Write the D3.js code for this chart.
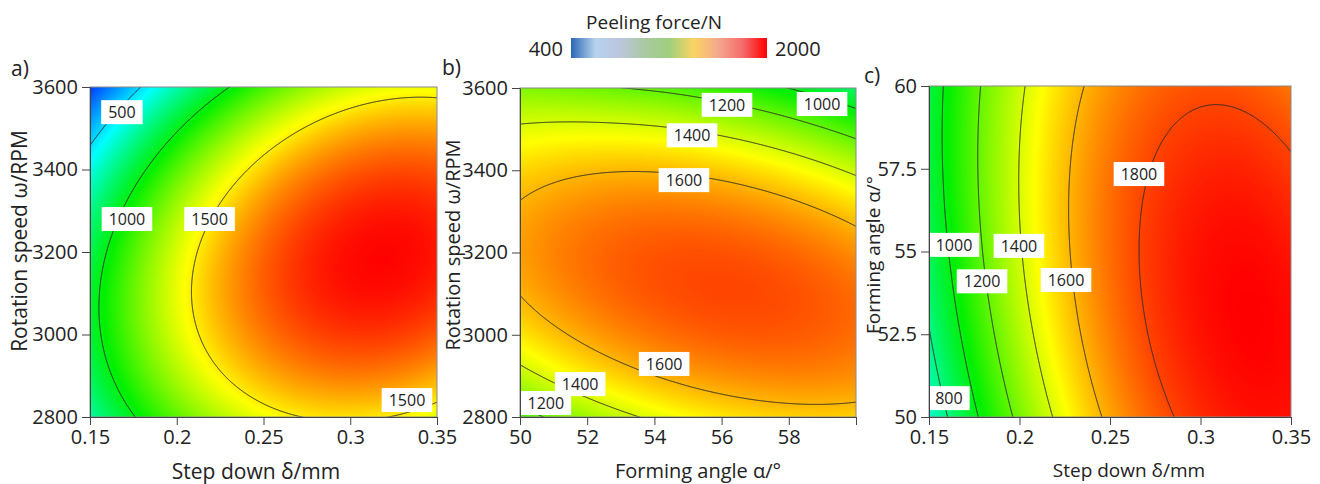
<!DOCTYPE html>
<html lang="en">
<head>
<meta charset="utf-8">
<title>Peeling force contour plots</title>
<style>
  body { margin: 0; background: #fff; font-family: "Open Sans", sans-serif; }
  svg { display: block; }
  .axis path, .axis line { fill: none; stroke: #444; stroke-width: 1px; }
  .axis text { font-family: "Open Sans", sans-serif; font-size: 20px; fill: #222; }
  .frame { fill: none; stroke: #8a8a8a; stroke-width: 1px; }
  .contour { fill: none; stroke: #2a2a2a; stroke-width: 1px; }
  .clabel text { font-size: 16px; fill: #222; }
  .title { fill: #222; }
</style>
</head>
<body>
<script src="https://cdnjs.cloudflare.com/ajax/libs/d3/7.8.5/d3.min.js"></script>
<script>

// grid axes
var stepDown = [0.15, 0.2, 0.25, 0.3, 0.35];      // mm
var rotSpeed = [2800, 3000, 3200, 3400, 3600];    // rpm
var formAngle = [50, 52.5, 55, 57.5, 60];         // deg

// peeling force (N), one row per y value, one column per x value
var forceA = [            // x: step down, y: rotation speed
  [750, 1186, 1443, 1522, 1422],
  [931, 1407, 1705, 1824, 1764],
  [888, 1404, 1742, 1901, 1882],
  [620, 1177, 1555, 1754, 1775],
  [130, 725, 1143, 1383, 1444]
];
var forceB = [            // x: forming angle, y: rotation speed
  [1139, 1336, 1470, 1542, 1551],
  [1507, 1656, 1742, 1765, 1726],
  [1640, 1741, 1779, 1755, 1668],
  [1539, 1592, 1582, 1509, 1374],
  [1250, 1212, 1150, 1030, 847]
];
var forceC = [            // x: step down, y: forming angle
  [669, 1236, 1628, 1845, 1887],
  [792, 1333, 1699, 1889, 1905],
  [874, 1389, 1728, 1893, 1882],
  [915, 1403, 1717, 1855, 1818],
  [915, 1377, 1664, 1776, 1713]
];

var levelsA = [500, 1000, 1500];
var levelsB = [1000, 1200, 1400, 1600];
var levelsC = [800, 1000, 1200, 1400, 1600, 1800];

// contour labels (value, x, y in data units)
var labelsA = [
  {v: 500, x: 0.1684, y: 3539}, {v: 1000, x: 0.1713, y: 3280},
  {v: 1500, x: 0.2189, y: 3280}, {v: 1500, x: 0.3327, y: 2841}
];
var labelsB = [
  {v: 1200, x: 56.16, y: 3559}, {v: 1000, x: 58.99, y: 3561},
  {v: 1400, x: 55.12, y: 3485}, {v: 1600, x: 54.88, y: 3376},
  {v: 1600, x: 54.29, y: 2929}, {v: 1400, x: 51.79, y: 2880},
  {v: 1200, x: 50.77, y: 2834}
];
var labelsC = [
  {v: 1800, x: 0.266, y: 57.34}, {v: 1000, x: 0.1638, y: 55.2},
  {v: 1400, x: 0.1997, y: 55.17}, {v: 1200, x: 0.1793, y: 54.1},
  {v: 1600, x: 0.2257, y: 54.14}, {v: 800, x: 0.161, y: 50.57}
];

// tick labels
var stepTicks = [0.15, 0.2, 0.25, 0.3, 0.35];
var speedTicks = [2800, 3000, 3200, 3400, 3600];
var angleTicksB = [50, 52, 54, 56, 58, 60];
var angleTicksC = [50, 52.5, 55, 57.5, 60];

// colour map
var colorValues = [130, 580, 1030, 1470, 1920];
var colorRange = ["#0038ff", "#00ffff", "#00f000", "#ffff00", "#ff0000"];
var legendColors = ["#2b68b2", "#b6d3ee", "#bcc6dc", "#a9c9a2", "#9fcf7e", "#f9d363", "#f4a98b", "#f46c6c", "#ff0000"];

var color = d3.scaleLinear().domain(colorValues).range(colorRange).clamp(true);

var svg = d3.select("body").append("svg")
  .attr("width", 1320)
  .attr("height", 484);

// bicubic smoothing of the grids (catmull-rom, quadratic end points)
function extend(arr) {
  var n = arr.length;
  return [3 * arr[0] - 3 * arr[1] + arr[2]].concat(arr, [3 * arr[n - 1] - 3 * arr[n - 2] + arr[n - 3]]);
}
function cr(p0, p1, p2, p3, t) {
  return 0.5 * (2 * p1 + (p2 - p0) * t + (2 * p0 - 5 * p1 + 4 * p2 - p3) * t * t + (3 * p1 - p0 - 3 * p2 + p3) * t * t * t);
}
function interp1(ext, s) {
  var n = ext.length - 2;
  var i = Math.max(0, Math.min(n - 2, Math.floor(s)));
  return cr(ext[i], ext[i + 1], ext[i + 2], ext[i + 3], s - i);
}

var lut = d3.range(0, 1001).map(function(k) {
  return d3.rgb(color(k * 2));
});

function drawPanel(p) {
  var x = d3.scaleLinear().domain([p.xs[0], p.xs[p.xs.length - 1]]).range([0, p.width]);
  var y = d3.scaleLinear().domain([p.ys[0], p.ys[p.ys.length - 1]]).range([p.height, 0]);

  var g = svg.append("g").attr("transform", "translate(" + p.left + "," + p.top + ")");

  var pad = 4;
  var nx = p.width + 2 * pad, ny = p.height + 2 * pad;
  var values = new Float64Array(nx * ny);
  var rowsExt = p.z.map(extend);
  var dxs = p.xs[1] - p.xs[0], dys = p.ys[1] - p.ys[0];
  for (var i = 0; i < nx; i++) {
    var s = (x.invert(i - pad + 0.5) - p.xs[0]) / dxs;
    var col = extend(rowsExt.map(function(r) { return interp1(r, s); }));
    for (var j = 0; j < ny; j++) {
      var t = (y.invert(j - pad + 0.5) - p.ys[0]) / dys;
      values[j * nx + i] = interp1(col, t);
    }
  }

  var canvas = document.createElement("canvas");
  canvas.width = p.width;
  canvas.height = p.height;
  var ctx = canvas.getContext("2d");
  var img = ctx.createImageData(p.width, p.height);
  for (var jj = 0; jj < p.height; jj++) {
    for (var ii = 0; ii < p.width; ii++) {
      var v = values[(jj + pad) * nx + ii + pad];
      var c = lut[Math.max(0, Math.min(1000, Math.round(v / 2)))];
      var o = (jj * p.width + ii) * 4;
      img.data[o] = c.r; img.data[o + 1] = c.g; img.data[o + 2] = c.b; img.data[o + 3] = 255;
    }
  }
  ctx.putImageData(img, 0, 0);

  g.append("image")
    .attr("width", p.width)
    .attr("height", p.height)
    .attr("href", canvas.toDataURL());

  var clipId = "clip-" + p.id;
  g.append("clipPath").attr("id", clipId)
    .append("rect").attr("width", p.width).attr("height", p.height);

  var inner = g.append("g").attr("clip-path", "url(#" + clipId + ")");

  var contours = d3.contours().size([nx, ny]).thresholds(p.levels)(values);
  inner.append("g")
    .attr("transform", "translate(" + (-pad) + "," + (-pad) + ")")
    .selectAll("path")
    .data(contours)
    .enter()
    .append("path")
    .attr("class", "contour")
    .attr("d", d3.geoPath());

  var labs = inner.selectAll("g.clabel")
    .data(p.labels)
    .enter()
    .append("g")
    .attr("class", "clabel")
    .attr("transform", function(d) { return "translate(" + x(d.x) + "," + y(d.y) + ")"; });

  labs.append("rect").attr("fill", "#fff");
  labs.append("text")
    .attr("text-anchor", "middle")
    .attr("dy", "0.36em")
    .text(function(d) { return d.v; });
  labs.each(function() {
    var w = d3.select(this).select("text").node().getComputedTextLength() + 14;
    d3.select(this).select("rect")
      .attr("x", -w / 2).attr("y", -12)
      .attr("width", w).attr("height", 24);
  });

  g.append("rect").attr("class", "frame")
    .attr("width", p.width).attr("height", p.height);

  g.append("g")
    .attr("class", "axis")
    .attr("transform", "translate(0," + p.height + ")")
    .call(d3.axisBottom(x).tickValues(p.xTicks).tickSize(8).tickSizeOuter(0).tickPadding(5)
      .tickFormat(p.xFormat || function(d) { return d; }));

  g.append("g")
    .attr("class", "axis")
    .call(d3.axisLeft(y).tickValues(p.yTicks).tickSize(8).tickSizeOuter(0).tickPadding(4)
      .tickFormat(function(d) { return d; }));

  g.append("text").attr("class", "title")
    .attr("x", p.xTitlePos[0] - p.left).attr("y", p.xTitlePos[1] - p.top)
    .attr("text-anchor", "middle")
    .style("font-size", p.titleSize + "px")
    .text(p.xTitle);

  g.append("text").attr("class", "title")
    .attr("transform", "translate(" + (p.yTitlePos[0] - p.left) + "," + (p.yTitlePos[1] - p.top) + ") rotate(-90)")
    .attr("text-anchor", "middle")
    .style("font-size", p.titleSize + "px")
    .text(p.yTitle);

  svg.append("text").attr("class", "title")
    .attr("x", p.tag[0]).attr("y", p.tag[1])
    .style("font-size", "21px")
    .text(p.tagText);
}

drawPanel({
  id: "a", left: 90, top: 87, width: 347, height: 330,
  xs: stepDown, ys: rotSpeed, z: forceA, levels: levelsA, labels: labelsA,
  xTicks: stepTicks, yTicks: speedTicks,
  xTitle: "Step down δ/mm", yTitle: "Rotation speed ω/RPM",
  xTitlePos: [256, 479], yTitlePos: [27, 241], titleSize: 21,
  tag: [11, 76], tagText: "a)"
});

drawPanel({
  id: "b", left: 520, top: 88, width: 336, height: 329,
  xs: formAngle, ys: rotSpeed, z: forceB, levels: levelsB, labels: labelsB,
  xTicks: angleTicksB, yTicks: speedTicks,
  xFormat: function(d) { return d === 60 ? "" : d; },
  xTitle: "Forming angle α/°", yTitle: "Rotation speed ω/RPM",
  xTitlePos: [698, 478], yTitlePos: [460, 245], titleSize: 20,
  tag: [442, 75], tagText: "b)"
});

drawPanel({
  id: "c", left: 929, top: 86, width: 362, height: 331,
  xs: stepDown, ys: formAngle, z: forceC, levels: levelsC, labels: labelsC,
  xTicks: stepTicks, yTicks: angleTicksC,
  xTitle: "Step down δ/mm", yTitle: "Forming angle α/°",
  xTitlePos: [1129, 477], yTitlePos: [880, 255], titleSize: 19,
  tag: [864, 83], tagText: "c)"
});

// colour bar
var grad = svg.append("defs").append("linearGradient").attr("id", "legend-grad");
grad.selectAll("stop")
  .data(legendColors)
  .enter()
  .append("stop")
  .attr("offset", function(d, i) { return (i / (legendColors.length - 1) * 100) + "%"; })
  .attr("stop-color", function(d) { return d; });

svg.append("rect")
  .attr("x", 571).attr("y", 38)
  .attr("width", 196).attr("height", 20)
  .attr("fill", "url(#legend-grad)");

svg.append("text").attr("class", "title")
  .attr("x", 563).attr("y", 56).attr("text-anchor", "end")
  .style("font-size", "20px").text("400");
svg.append("text").attr("class", "title")
  .attr("x", 775).attr("y", 56)
  .style("font-size", "20px").text("2000");
svg.append("text").attr("class", "title")
  .attr("x", 654).attr("y", 29).attr("text-anchor", "middle")
  .style("font-size", "19px").text("Peeling force/N");

</script>
</body>
</html>
